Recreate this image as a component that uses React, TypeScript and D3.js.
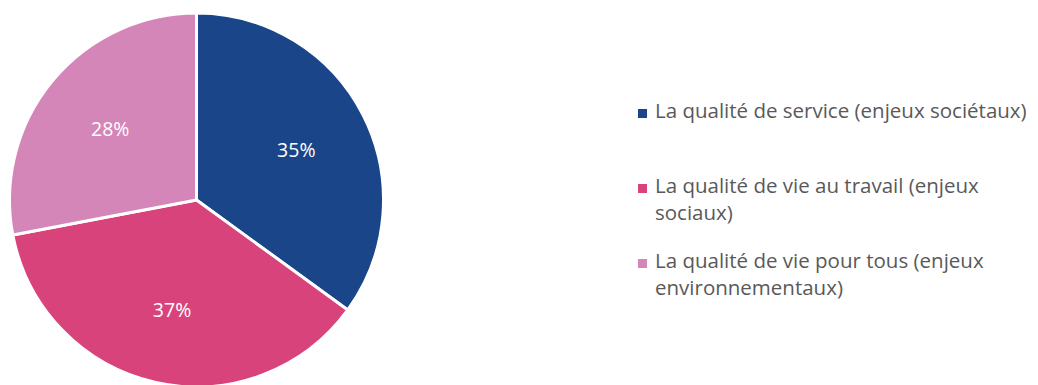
import * as d3 from "d3";

const WIDTH = 1038;
const HEIGHT = 385;

const categories = [
  "La qualité de service (enjeux sociétaux)",
  "La qualité de vie au travail (enjeux sociaux)",
  "La qualité de vie pour tous (enjeux environnementaux)",
];
const values = [35, 37, 28];
const colors = ["#1A4689", "#D9437C", "#D486B8"];
// legend text wrapped the way the reference does it
const legendLines = [
  ["La qualité de service (enjeux sociétaux)"],
  ["La qualité de vie au travail (enjeux", "sociaux)"],
  ["La qualité de vie pour tous (enjeux", "environnementaux)"],
];

const cx = 196.5,
  cy = 200,
  radius = 187;

const pie = d3
  .pie<number>()
  .sort(null)
  .value((d) => d);

const arc = d3.arc<d3.PieArcDatum<number>>().innerRadius(0).outerRadius(radius);
const labelArc = d3.arc<d3.PieArcDatum<number>>().innerRadius(112).outerRadius(112);

const slices = pie(values);

// legend layout
const legendX = 655;
const legendTop = [118, 193, 268];
const lineHeight = 27;

export default function App() {
  return (
    <svg
      width={WIDTH}
      height={HEIGHT}
      style={{ position: "absolute", left: 0, top: 0, background: "#fff" }}
      fontFamily="'Open Sans', sans-serif"
    >
      <g transform={`translate(${cx},${cy})`}>
        {slices.map((s, i) => (
          <path
            key={categories[i]}
            d={arc(s) as string}
            fill={colors[i]}
            stroke="#fff"
            strokeWidth={3}
            strokeLinejoin="round"
          />
        ))}
        {slices.map((s, i) => {
          const [x, y] = labelArc.centroid(s);
          return (
            <text
              key={"l" + i}
              x={x}
              y={y}
              textAnchor="middle"
              dominantBaseline="central"
              fill="#fff"
              fontSize={19.5}
            >
              {d3.format(".0f")(s.data) + "%"}
            </text>
          );
        })}
      </g>
      <g>
        {legendLines.map((lines, i) => (
          <g key={"lg" + i}>
            <rect
              x={legendX - 17}
              y={legendTop[i] - 9}
              width={9}
              height={9}
              fill={colors[i]}
            />
            <text fill="#595959" fontSize={20.5}>
              {lines.map((t, j) => (
                <tspan key={j} x={legendX} y={legendTop[i] + j * lineHeight}>
                  {t}
                </tspan>
              ))}
            </text>
          </g>
        ))}
      </g>
    </svg>
  );
}
